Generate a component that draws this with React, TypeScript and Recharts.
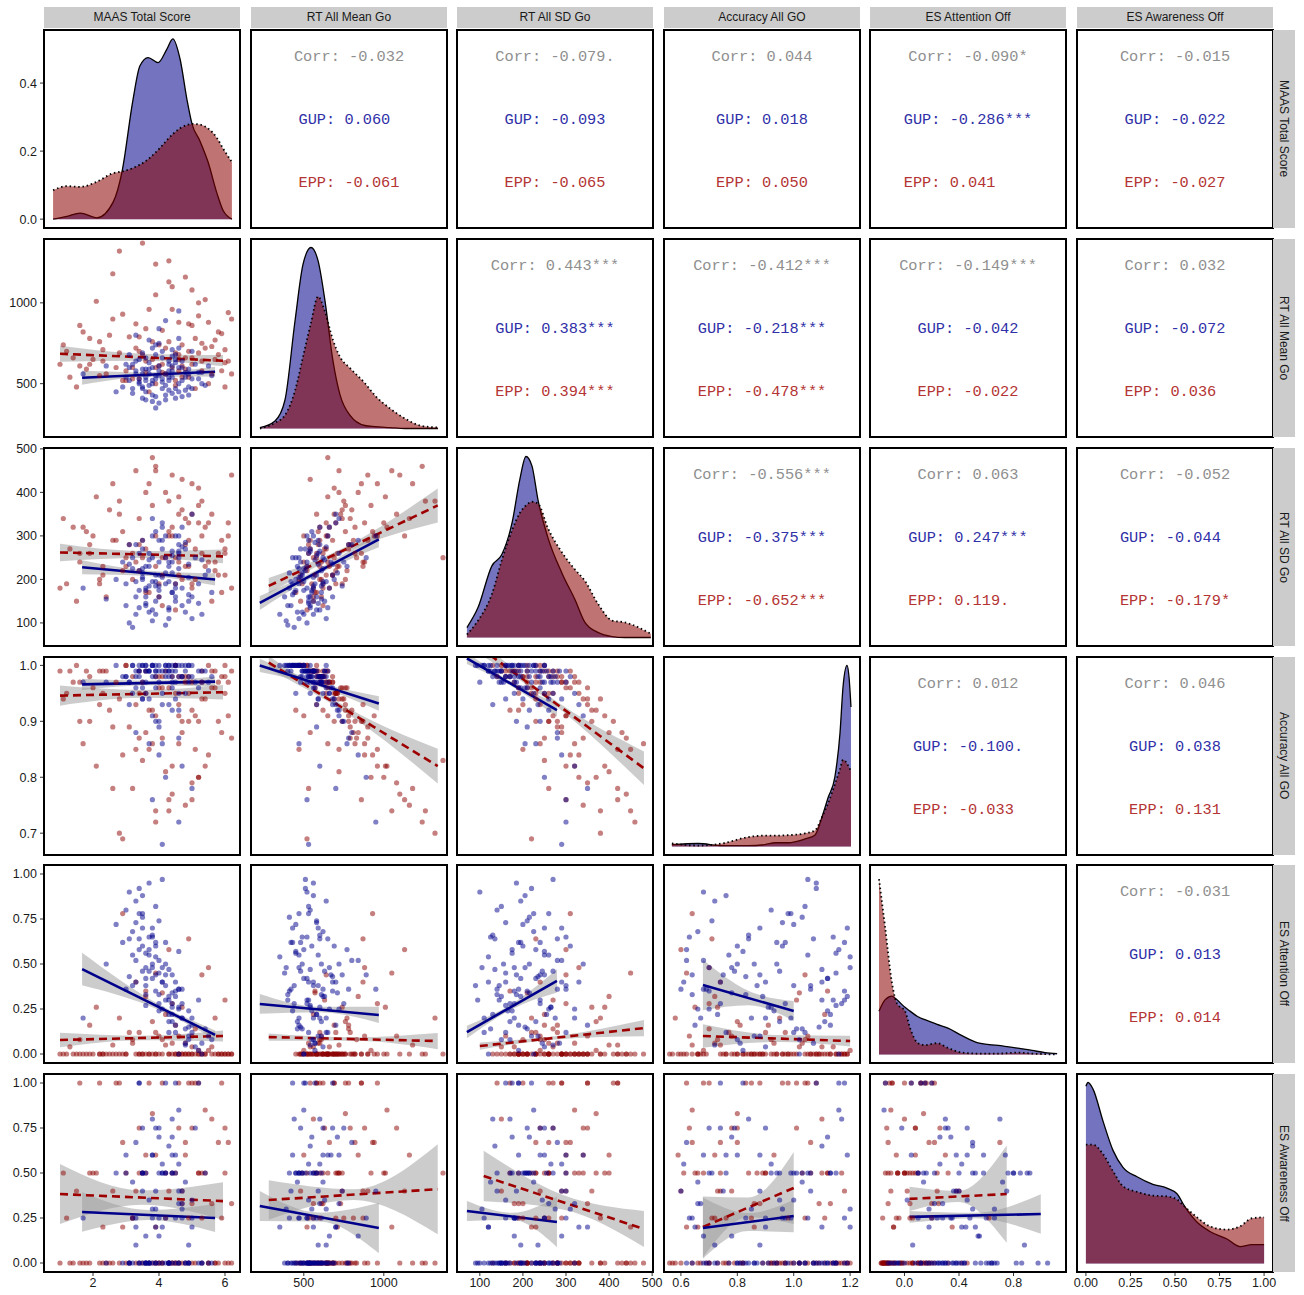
import React from "react";
import { ComposedChart, Scatter, Line, Area, XAxis, YAxis } from "recharts";

const variables = ["MAAS Total Score", "RT All Mean Go", "RT All SD Go", "Accuracy All GO", "ES Attention Off", "ES Awareness Off"];

// panel geometry
const colLeft = [44, 251, 457, 664, 870, 1077];
const rowTop = [30, 239, 448, 657, 865, 1074];
const PW = 196;
const PH = 198;
const PAD = 16;

const xDomains: [number, number][] = [[0.515, 6.455], [170, 1395], [47, 502], [0.54, 1.235], [-0.253, 1.185], [-0.05, 1.05]];
const yDomains: [number, number][] = [[-0.026, 0.556], [170, 1395], [47, 502], [0.661, 1.015], [-0.05, 1.05], [-0.05, 1.05]];
const densityDomain: [number, number] = [-0.045, 1.005];

const xTicks = [[2, 4, 6], [500, 1000], [100, 200, 300, 400, 500], [0.6, 0.8, 1.0, 1.2], [0, 0.4, 0.8], [0, 0.25, 0.5, 0.75, 1]];
const xDigits = [0, 0, 0, 1, 1, 2];
const yTicks = [[0, 0.2, 0.4], [500, 1000], [100, 200, 300, 400, 500], [0.7, 0.8, 0.9, 1.0], [0, 0.25, 0.5, 0.75, 1], [0, 0.25, 0.5, 0.75, 1]];
const yDigits = [1, 0, 0, 1, 2, 2];

// subject rows: [maas, rtMean, rtSd, acc, attOff, awaOff, accX, attX]
const xField = [0, 1, 2, 6, 7, 5];
const yField = [0, 1, 2, 3, 4, 5];

const gupRows = [
  [3.6, 520, 230, 0.99, 0.42, 0.0, 1.12, 0.35], [4.4, 610, 170, 0.98, 0.18, 0.5, 0.95, 0.1],
  [3.2, 470, 250, 1.0, 0.55, 0.25, 1.05, 0.6], [4.9, 560, 150, 0.97, 0.08, 0.0, 0.8, -0.05],
  [3.9, 680, 210, 0.96, 0.35, 0.75, 0.7, 0.3], [4.2, 430, 190, 1.0, 0.62, 1.0, 1.18, 0.12],
  [3.5, 590, 290, 0.94, 0.7, 0.4, 0.88, 0.75], [5.3, 500, 120, 0.99, 0.0, 0.0, 1.02, -0.12],
  [4.6, 720, 260, 0.92, 0.25, 0.33, 0.66, 0.28], [3.0, 540, 140, 0.98, 0.8, 0.5, 0.92, 0.85],
  [4.0, 380, 160, 1.0, 0.45, 0.0, 1.15, 0.4], [4.5, 650, 300, 0.97, 0.12, 0.6, 0.76, 0.05],
  [3.7, 560, 185, 0.99, 0.95, 0.0, 1.08, 1.05], [5.0, 470, 110, 1.0, 0.2, 0.25, 0.99, 0.2],
  [3.3, 800, 280, 0.88, 0.52, 0.67, 0.62, 0.5], [4.3, 520, 240, 0.99, 0.3, 0.0, 1.1, 0.25],
  [3.8, 600, 130, 0.98, 0.66, 0.8, 0.84, 0.7], [4.8, 540, 270, 0.95, 0.05, 0.0, 0.72, -0.1],
  [2.7, 450, 200, 1.0, 0.72, 0.5, 1.0, 0.92], [4.1, 700, 330, 0.93, 0.4, 0.2, 0.9, 0.45],
  [3.4, 500, 175, 1.0, 0.58, 1.0, 1.16, 0.15], [5.5, 610, 220, 0.97, 0.1, 0.0, 0.86, 0.0],
  [4.7, 420, 140, 1.0, 0.36, 0.4, 1.06, 0.38], [3.6, 660, 180, 0.95, 0.48, 0.15, 0.78, 0.55],
  [4.4, 580, 255, 0.99, 0.22, 0.5, 1.13, 0.22], [3.1, 520, 100, 0.97, 0.9, 0.0, 0.68, 0.98],
  [4.0, 750, 240, 0.9, 0.28, 0.75, 0.74, 0.32], [4.9, 480, 205, 1.0, 0.15, 0.0, 1.09, 0.08],
  [3.9, 550, 310, 0.98, 0.6, 0.3, 0.96, 0.66], [4.5, 630, 150, 0.99, 0.32, 0.0, 1.19, 0.3],
  [3.5, 410, 215, 1.0, 0.76, 0.5, 1.03, 0.8], [5.2, 570, 190, 0.96, 0.02, 1.0, 0.82, -0.14],
  [4.2, 890, 250, 0.8, 0.44, 0.25, 0.64, 0.48], [3.7, 490, 125, 0.99, 0.65, 0.0, 1.14, 0.18],
  [4.6, 600, 265, 0.98, 0.26, 0.55, 0.92, 0.26], [3.3, 640, 195, 0.96, 0.85, 0.1, 0.72, 0.88],
  [4.3, 460, 230, 1.0, 0.18, 0.0, 1.11, 0.12], [5.0, 530, 160, 0.98, 0.12, 0.35, 1.0, 0.02],
  [3.8, 720, 340, 0.91, 0.5, 0.6, 0.8, 0.58], [1.7, 560, 180, 0.97, 0.2, 0.25, 0.9, 0.24],
  [4.1, 510, 270, 0.99, 0.97, 0.5, 1.05, 0.1], [3.6, 590, 145, 0.97, 0.38, 0.0, 0.87, 0.42],
  [4.4, 440, 170, 1.0, 0.28, 0.8, 1.17, 0.3], [3.2, 620, 225, 0.95, 0.68, 0.45, 0.66, 0.72],
  [4.8, 570, 285, 0.99, 0.06, 0.0, 1.07, -0.08], [3.9, 350, 120, 1.0, 0.54, 0.2, 1.2, 0.52],
  [4.5, 680, 160, 0.94, 0.4, 1.0, 0.74, 0.05], [3.4, 530, 260, 0.98, 0.78, 0.0, 0.98, 0.82],
  [5.4, 490, 210, 0.99, 0.14, 0.5, 1.01, 0.16], [4.0, 610, 185, 0.97, 0.33, 0.25, 0.83, 0.35],
  [3.7, 770, 230, 0.86, 0.58, 0.0, 0.62, 0.62], [4.3, 540, 135, 0.99, 0.47, 0.65, 1.1, 0.5],
  [2.9, 480, 240, 0.98, 0.62, 0.0, 0.94, 0.68], [4.7, 640, 275, 0.98, 0.2, 0.3, 0.85, 0.18],
  [3.5, 560, 205, 0.96, 0.88, 0.5, 0.76, 0.9], [4.2, 400, 95, 1.0, 0.3, 0.0, 1.18, 0.28],
  [5.1, 620, 250, 0.97, 0.04, 0.75, 0.9, -0.02], [3.8, 500, 195, 1.0, 0.42, 0.0, 1.12, 0.44],
  [4.6, 950, 300, 0.72, 0.36, 0.4, 0.6, 0.36], [3.3, 580, 160, 0.98, 0.73, 0.25, 0.96, 0.1],
  [4.1, 660, 320, 0.95, 0.25, 0.0, 0.7, 0.22], [3.6, 450, 175, 1.0, 0.56, 0.5, 1.15, 0.58],
  [4.9, 590, 235, 0.98, 0.1, 0.1, 0.88, 0.06], [3.9, 530, 150, 0.99, 0.82, 0.0, 1.04, 0.86],
  [4.4, 710, 215, 0.92, 0.34, 0.7, 0.78, 0.34], [3.1, 600, 280, 0.97, 0.64, 0.0, 0.84, 0.12],
  [4.5, 470, 190, 1.0, 0.16, 0.5, 1.13, 0.14], [3.7, 630, 245, 0.99, 0.46, 0.35, 0.95, 0.46],
  [5.6, 550, 170, 0.98, 0.08, 0.0, 1.02, -0.04], [4.0, 840, 290, 0.84, 0.52, 0.15, 0.68, 0.54],
  [3.4, 510, 220, 0.99, 0.92, 1.0, 1.08, 0.2], [4.3, 580, 130, 0.93, 0.22, 0.0, 0.73, 0.2],
  [3.8, 430, 250, 1.0, 0.7, 0.6, 1.19, 0.74], [4.7, 520, 180, 0.98, 0.28, 0.25, 0.97, 0.28],
  [3.5, 690, 200, 0.94, 0.6, 0.0, 0.8, 0.64], [4.2, 560, 300, 0.99, 0.38, 0.5, 1.06, 0.4],
  [2.4, 610, 155, 0.97, 0.5, 0.0, 0.86, 0.52], [4.6, 500, 225, 1.0, 0.0, 0.85, 1.16, -0.15],
  [3.9, 740, 185, 0.9, 0.44, 0.4, 0.75, 0.4], [4.4, 540, 265, 0.97, 0.26, 0.0, 0.91, 0.24],
  [3.6, 400, 140, 0.99, 0.33, 0.0, 0.64, 0.36], [4.1, 470, 205, 0.86, 0.48, 0.5, 0.7, 0.5],
  [3.3, 560, 120, 0.99, 0.4, 0.2, 1.1, 0.42], [4.6, 450, 250, 0.95, 0.57, 0.0, 0.82, 0.6],
  [3.0, 620, 190, 0.98, 0.36, 0.6, 0.68, 0.38], [4.9, 430, 165, 1.0, 0.24, 0.0, 0.93, 0.26],
  [3.8, 520, 300, 0.76, 0.65, 0.25, 0.63, 0.66], [4.3, 640, 110, 1.0, 0.12, 0.0, 1.04, 0.16],
  [3.5, 480, 270, 0.97, 0.46, 0.75, 0.79, 0.46], [5.2, 530, 145, 0.99, 0.3, 0.0, 1.14, 0.3],
  [4.0, 580, 210, 0.89, 0.74, 0.5, 0.71, 0.76], [3.2, 440, 90, 1.0, 0.38, 0.0, 1.0, 0.38],
  [4.7, 600, 320, 0.82, 0.2, 0.33, 0.67, 0.22], [3.9, 420, 195, 0.99, 0.62, 0.0, 0.97, 0.64],
  [4.4, 670, 240, 0.96, 0.44, 0.6, 0.88, 0.46], [3.6, 540, 160, 1.0, 0.27, 0.0, 1.15, 0.28],
  [5.0, 700, 350, 0.78, 0.16, 0.2, 0.65, 0.18], [4.2, 490, 215, 0.98, 0.5, 0.5, 0.94, 0.52],
  [3.4, 650, 135, 0.99, 0.64, 0.0, 1.07, 0.66], [4.5, 410, 180, 1.0, 0.35, 0.25, 1.18, 0.34],
  [3.7, 590, 260, 0.94, 0.55, 0.0, 0.77, 0.56], [4.8, 460, 125, 1.0, 0.14, 0.45, 1.03, 0.14],
  [3.1, 680, 235, 0.93, 0.43, 0.0, 0.83, 0.44], [4.0, 550, 175, 0.99, 0.24, 0.7, 1.12, 0.26],
  [4.6, 780, 280, 0.87, 0.36, 0.0, 0.69, 0.38], [3.5, 470, 225, 1.0, 0.78, 0.5, 0.99, 0.8],
  [4.3, 620, 195, 0.98, 0.32, 0.0, 0.89, 0.32], [3.8, 390, 105, 1.0, 0.48, 0.3, 1.2, 0.5],
  [5.3, 570, 245, 0.97, 0.06, 0.0, 0.81, -0.06], [4.1, 530, 290, 0.68, 0.4, 0.55, 0.61, 0.42],
];

const eppRows = [
  [1.0, 620, 180, 0.99, 0.0, 0.0, 1.15, -0.17], [5.8, 820, 260, 0.9, 0.0, 0.67, 0.74, -0.12],
  [2.6, 1180, 420, 0.78, 0.05, 0.0, 0.64, -0.08], [4.9, 540, 290, 0.98, 0.0, 1.0, 1.08, 0.05],
  [3.4, 700, 220, 0.95, 0.12, 0.5, 0.9, 0.0], [6.1, 640, 330, 0.97, 0.0, 0.0, 0.82, -0.15],
  [1.5, 480, 150, 1.0, 0.0, 0.4, 1.18, -0.1], [4.4, 960, 300, 0.82, 0.28, 0.0, 0.7, 0.18],
  [5.3, 580, 260, 0.99, 0.0, 0.5, 1.12, -0.05], [2.2, 760, 200, 0.93, 0.0, 1.0, 0.96, 0.15],
  [3.9, 1050, 450, 0.74, 0.45, 0.2, 0.62, 0.35], [5.0, 660, 180, 0.97, 0.04, 0.0, 1.02, -0.16],
  [1.8, 590, 310, 0.99, 0.0, 0.0, 1.16, 0.02], [4.6, 880, 240, 0.86, 0.1, 0.75, 0.78, 0.08],
  [3.0, 520, 230, 1.0, 0.0, 0.5, 1.1, -0.14], [5.6, 730, 350, 0.96, 0.0, 0.33, 0.86, 0.2],
  [2.8, 1320, 380, 0.7, 0.2, 0.0, 0.58, -0.02], [4.1, 620, 140, 0.98, 0.0, 1.0, 1.05, 0.22],
  [6.0, 480, 210, 1.0, 0.0, 0.0, 1.19, -0.11], [3.6, 840, 400, 0.88, 0.32, 0.6, 0.72, 0.3],
  [1.2, 700, 190, 0.95, 0.0, 0.25, 0.98, -0.06], [4.8, 590, 280, 0.98, 0.06, 0.0, 0.93, -0.13],
  [5.2, 1000, 330, 0.8, 0.0, 0.5, 0.66, 0.0], [2.4, 560, 160, 0.99, 0.0, 0.0, 1.13, 0.1],
  [3.8, 760, 370, 0.92, 0.18, 0.83, 0.8, 0.14], [5.7, 650, 240, 0.99, 0.0, 0.0, 1.07, -0.17],
  [4.3, 1130, 300, 0.76, 0.58, 0.4, 0.6, 0.4], [1.6, 860, 260, 0.9, 0.0, 1.0, 0.88, -0.09],
  [4.9, 700, 330, 0.95, 0.0, 0.0, 0.94, 0.04], [3.2, 600, 200, 0.98, 0.08, 0.25, 1.04, -0.04],
  [6.2, 900, 440, 0.87, 0.0, 0.0, 0.76, -0.15], [2.0, 650, 300, 0.96, 0.0, 0.5, 0.84, 0.08],
  [4.5, 520, 130, 1.0, 0.0, 0.0, 1.17, -0.12], [5.1, 780, 270, 0.91, 0.14, 1.0, 0.7, 0.12],
  [3.5, 680, 290, 0.97, 0.0, 0.0, 1.0, -0.07], [2.9, 930, 310, 0.84, 0.78, 0.67, 0.64, 0.7],
  [4.7, 610, 200, 0.98, 0.0, 0.33, 1.09, 0.25], [1.3, 540, 270, 0.99, 0.04, 0.0, 1.14, -0.01],
  [5.4, 720, 230, 0.94, 0.0, 0.5, 0.89, -0.1], [3.9, 1240, 460, 0.72, 0.0, 0.0, 0.56, 0.06],
  [4.2, 560, 250, 0.99, 0.22, 0.25, 1.11, 0.2], [2.5, 800, 360, 0.92, 0.0, 0.0, 0.82, -0.13],
  [5.9, 580, 170, 0.98, 0.0, 1.0, 1.01, 0.0], [3.3, 870, 240, 0.93, 0.4, 0.4, 0.74, 0.38],
  [4.6, 650, 390, 0.91, 0.0, 0.0, 0.92, -0.16], [5.0, 1080, 350, 0.79, 0.1, 0.75, 0.63, 0.08],
  [1.9, 620, 260, 0.98, 0.0, 0.5, 1.06, -0.05], [4.0, 740, 190, 0.96, 0.0, 0.0, 0.97, 0.12],
  [5.5, 500, 240, 1.0, 0.02, 0.0, 1.2, -0.14], [3.7, 960, 420, 0.85, 0.0, 1.0, 0.68, 0.16],
  [2.3, 710, 230, 0.95, 0.0, 0.2, 0.86, -0.08], [4.4, 600, 320, 0.98, 0.06, 0.5, 1.03, 0.02],
  [5.8, 680, 210, 0.97, 0.0, 0.0, 0.94, -0.12], [3.1, 790, 280, 0.89, 0.12, 0.0, 0.77, 0.1],
  [4.8, 1160, 340, 0.75, 0.0, 0.6, 0.59, -0.06], [1.4, 660, 320, 0.97, 0.0, 0.0, 0.99, 0.18],
  [3.6, 570, 170, 0.99, 0.35, 0.5, 1.12, 0.32], [5.3, 750, 380, 0.94, 0.0, 0.25, 0.85, -0.16],
  [4.1, 830, 250, 0.87, 0.08, 0.0, 0.73, 0.06], [2.7, 600, 290, 0.97, 0.0, 1.0, 1.04, -0.11],
  [6.1, 940, 300, 0.91, 0.0, 0.67, 0.8, 0.22], [4.5, 690, 250, 0.95, 0.16, 0.0, 0.91, 0.14],
  [3.4, 530, 280, 0.99, 0.0, 0.0, 1.15, -0.09], [5.0, 620, 190, 0.92, 0.0, 0.33, 0.88, 0.04],
  [2.1, 1010, 390, 0.82, 0.26, 0.5, 0.65, 0.24], [4.3, 760, 310, 0.96, 0.0, 0.0, 0.96, -0.14],
  [5.6, 560, 150, 0.99, 0.04, 0.8, 1.1, 0.0], [3.8, 650, 480, 0.86, 0.0, 0.0, 0.75, 0.1],
  [1.1, 740, 340, 0.94, 0.0, 0.5, 0.87, -0.12], [4.9, 870, 230, 0.9, 0.64, 0.25, 0.71, 0.62],
  [3.0, 580, 250, 1.0, 0.0, 0.0, 1.18, -0.03], [5.2, 690, 410, 0.9, 0.0, 1.0, 0.83, 0.12],
  [4.0, 610, 160, 0.98, 0.1, 0.0, 1.05, -0.15], [2.6, 900, 290, 0.89, 0.0, 0.4, 0.78, 0.02],
  [5.7, 770, 220, 0.96, 0.2, 0.0, 0.95, 0.16], [3.5, 1370, 250, 0.83, 0.0, 0.5, 0.61, -0.05],
  [4.7, 540, 430, 0.88, 0.0, 0.0, 0.79, 0.2], [6.0, 630, 270, 0.98, 0.3, 0.75, 1.01, 0.26],
  [1.7, 820, 320, 0.86, 0.0, 0.0, 0.69, -0.1], [4.2, 720, 400, 0.81, 0.05, 0.5, 0.74, 0.06],
  [5.1, 470, 200, 0.85, 0.0, 0.0, 0.66, -0.13], [3.2, 530, 260, 0.78, 0.06, 0.25, 0.72, 0.04],
  [4.6, 580, 350, 0.93, 0.0, 1.0, 0.85, -0.09], [2.3, 640, 210, 0.99, 0.0, 0.0, 1.09, -0.16],
  [5.5, 880, 330, 0.84, 0.48, 0.0, 0.7, 0.46], [3.9, 500, 300, 0.91, 0.0, 0.6, 0.93, 0.08],
  [4.4, 1100, 440, 0.77, 0.0, 0.0, 0.6, -0.04], [6.2, 560, 180, 0.99, 0.0, 0.33, 1.13, -0.12],
  [1.9, 780, 280, 0.9, 0.16, 0.0, 0.81, 0.14], [4.8, 660, 230, 0.97, 0.0, 0.67, 1.06, 0.18],
  [3.7, 450, 170, 0.92, 0.0, 0.0, 0.89, -0.11], [5.2, 920, 370, 0.8, 0.02, 0.5, 0.68, 0.0],
  [2.8, 690, 350, 0.94, 0.0, 1.0, 0.98, -0.14], [4.1, 570, 210, 0.96, 0.34, 0.0, 1.02, 0.32],
  [5.9, 810, 290, 0.88, 0.0, 0.25, 0.76, 0.06], [3.3, 720, 450, 0.85, 0.0, 0.0, 0.67, -0.07],
  [4.5, 490, 190, 1.0, 0.0, 0.5, 1.17, 0.1], [1.6, 610, 240, 0.97, 0.08, 0.0, 0.92, 0.06],
  [5.4, 1020, 320, 0.82, 0.0, 0.85, 0.64, -0.1], [3.6, 640, 270, 0.95, 0.0, 0.0, 1.11, 0.16],
  [4.7, 740, 360, 0.9, 0.26, 0.4, 0.73, 0.24], [2.2, 550, 190, 0.99, 0.0, 0.0, 1.19, -0.02],
  [5.0, 860, 420, 0.76, 0.0, 1.0, 0.62, 0.2], [3.9, 600, 230, 0.98, 0.12, 0.0, 0.97, -0.15],
  [6.0, 710, 260, 0.95, 0.0, 0.5, 0.9, 0.04], [4.3, 1260, 380, 0.74, 0.0, 0.0, 0.57, 0.12],
  [2.9, 520, 220, 0.69, 0.0, 0.2, 0.66, -0.08], [5.3, 640, 300, 0.97, 0.44, 0.0, 1.04, 0.42],
  [3.4, 790, 340, 0.87, 0.0, 0.75, 0.8, -0.13], [4.6, 680, 210, 0.98, 0.0, 0.0, 1.08, 0.22],
];

// diagonal densities (row 1 in density units, others as share of panel height)
const maasGrid = [0.79, 1.21, 1.61, 2.12, 2.61, 2.88, 3.21, 3.42, 3.67, 3.97, 4.24, 4.42, 4.64, 4.85, 5.0, 5.24, 5.48, 5.76, 5.94, 6.21];
const maasGup = [0, 0.008, 0.018, 0.004, 0.05, 0.14, 0.35, 0.45, 0.475, 0.46, 0.5, 0.53, 0.47, 0.35, 0.28, 0.23, 0.17, 0.075, 0.026, 0];
const maasEpp = [0.085, 0.097, 0.095, 0.11, 0.135, 0.14, 0.15, 0.16, 0.176, 0.203, 0.232, 0.25, 0.267, 0.277, 0.28, 0.278, 0.267, 0.238, 0.208, 0.168];

const rtmGrid = [226, 320, 382, 445, 495, 545, 589, 632, 682, 726, 789, 882, 945, 1039, 1132, 1226, 1339];
const rtmGup = [0.005, 0.04, 0.15, 0.57, 0.87, 0.96, 0.89, 0.68, 0.36, 0.18, 0.07, 0.016, 0.01, 0.005, 0, 0, 0];
const rtmEpp = [0, 0.03, 0.07, 0.2, 0.38, 0.56, 0.7, 0.62, 0.47, 0.38, 0.32, 0.24, 0.175, 0.106, 0.053, 0.016, 0.005];

const rtsdGrid = [70, 96, 128, 151, 175, 193, 207, 221, 235, 258, 291, 321, 344, 374, 407, 437, 497];
const rtsdGup = [0.053, 0.16, 0.38, 0.44, 0.61, 0.84, 0.96, 0.91, 0.73, 0.53, 0.34, 0.2, 0.08, 0.027, 0.005, 0, 0];
const rtsdEpp = [0.016, 0.09, 0.23, 0.41, 0.57, 0.66, 0.7, 0.72, 0.71, 0.58, 0.45, 0.36, 0.3, 0.18, 0.09, 0.08, 0.02];

const accGrid = [0.568, 0.661, 0.746, 0.838, 0.898, 0.934, 0.98, 1.04, 1.075, 1.1, 1.122, 1.146, 1.164, 1.175, 1.189, 1.196, 1.203];
const accGup = [0.01, 0.016, 0.005, 0.005, 0.01, 0.02, 0.02, 0.04, 0.06, 0.155, 0.26, 0.37, 0.6, 0.85, 0.96, 0.9, 0.74];
const accEpp = [0.016, 0.005, 0.016, 0.05, 0.058, 0.058, 0.06, 0.07, 0.085, 0.155, 0.23, 0.33, 0.41, 0.46, 0.44, 0.42, 0.4];

const attGrid = [-0.187, -0.143, -0.092, -0.055, 0.004, 0.041, 0.099, 0.15, 0.239, 0.319, 0.422, 0.54, 0.686, 0.833, 0.936, 1.031, 1.12];
const attGup = [0.23, 0.29, 0.31, 0.29, 0.25, 0.23, 0.2, 0.185, 0.16, 0.14, 0.1, 0.062, 0.048, 0.034, 0.022, 0.01, 0.005];
const attEpp = [0.93, 0.68, 0.38, 0.27, 0.23, 0.14, 0.06, 0.05, 0.06, 0.035, 0.01, 0.005, 0.005, 0.01, 0.005, 0.002, 0];

const awaGrid = [0, 0.012, 0.04, 0.096, 0.152, 0.208, 0.287, 0.376, 0.455, 0.511, 0.556, 0.623, 0.696, 0.792, 0.865, 0.932, 1.0];
const awaGup = [0.94, 0.96, 0.925, 0.755, 0.6, 0.51, 0.46, 0.42, 0.4, 0.37, 0.3, 0.22, 0.17, 0.13, 0.09, 0.1, 0.1];
const awaEpp = [0.63, 0.63, 0.63, 0.58, 0.49, 0.41, 0.38, 0.36, 0.356, 0.34, 0.3, 0.245, 0.197, 0.18, 0.197, 0.24, 0.245];

const densGrids = [maasGrid, rtmGrid, rtsdGrid, accGrid, attGrid, awaGrid];
const densGup = [maasGup, rtmGup, rtsdGup, accGup, attGup, awaGup];
const densEpp = [maasEpp, rtmEpp, rtsdEpp, accEpp, attEpp, awaEpp];

// linear fits: [row, col, group (0 GUP, 1 EPP), x0, x1, y0, y1, half-width left, mid, right]
const fits = [
  [1, 0, 1, 1.0, 5.94, 685, 642, 50, 22, 35],
  [1, 0, 0, 1.67, 5.7, 537, 574, 43, 15, 30],
  [2, 0, 1, 1.0, 5.94, 262, 253, 20, 8, 16],
  [2, 0, 0, 1.67, 5.7, 228, 200, 16, 6, 14],
  [2, 1, 1, 281, 1337, 185, 370, 18, 7, 39],
  [2, 1, 0, 225, 969, 146, 292, 16, 6, 18],
  [3, 0, 1, 1.0, 5.94, 0.946, 0.952, 0.018, 0.007, 0.013],
  [3, 0, 0, 1.67, 5.7, 0.966, 0.971, 0.01, 0.004, 0.009],
  [3, 1, 1, 281, 1337, 1.005, 0.82, 0.012, 0.006, 0.031],
  [3, 1, 0, 225, 969, 1.0, 0.932, 0.012, 0.004, 0.013],
  [3, 2, 1, 100, 481, 1.032, 0.816, 0.012, 0.005, 0.03],
  [3, 2, 0, 70, 279, 1.0125, 0.92, 0.01, 0.004, 0.012],
  [4, 0, 1, 1.0, 5.94, 0.078, 0.1, 0.04, 0.012, 0.03],
  [4, 0, 0, 1.67, 5.7, 0.472, 0.106, 0.09, 0.02, 0.025],
  [4, 1, 1, 281, 1337, 0.094, 0.072, 0.02, 0.01, 0.045],
  [4, 1, 0, 225, 969, 0.278, 0.217, 0.055, 0.015, 0.045],
  [4, 2, 1, 100, 481, 0.044, 0.144, 0.02, 0.01, 0.045],
  [4, 2, 0, 70, 279, 0.122, 0.406, 0.035, 0.015, 0.065],
  [4, 3, 1, 0.678, 1.2, 0.1, 0.072, 0.065, 0.02, 0.03],
  [4, 3, 0, 0.678, 1.0, 0.383, 0.239, 0.14, 0.04, 0.055],
  [5, 0, 1, 1.0, 5.94, 0.383, 0.344, 0.167, 0.04, 0.105],
  [5, 0, 0, 1.67, 5.7, 0.283, 0.25, 0.11, 0.028, 0.078],
  [5, 1, 1, 281, 1337, 0.35, 0.41, 0.11, 0.03, 0.25],
  [5, 1, 0, 225, 969, 0.317, 0.194, 0.083, 0.025, 0.14],
  [5, 2, 1, 109, 481, 0.483, 0.189, 0.14, 0.04, 0.1],
  [5, 2, 0, 70, 279, 0.289, 0.228, 0.055, 0.02, 0.14],
  [5, 3, 1, 0.678, 1.0, 0.2, 0.417, 0.17, 0.055, 0.2],
  [5, 3, 0, 0.678, 1.0, 0.194, 0.261, 0.17, 0.05, 0.09],
  [5, 4, 1, 0.037, 0.75, 0.356, 0.383, 0.067, 0.03, 0.27],
  [5, 4, 0, 0.037, 1.0, 0.256, 0.272, 0.033, 0.015, 0.11],
];

// upper panels: [row, col, overall, GUP, EPP]
const corrCells = [
  [0, 1, "-0.032", "0.060", "-0.061"],
  [0, 2, "-0.079.", "-0.093", "-0.065"],
  [0, 3, "0.044", "0.018", "0.050"],
  [0, 4, "-0.090*", "-0.286***", "0.041"],
  [0, 5, "-0.015", "-0.022", "-0.027"],
  [1, 2, "0.443***", "0.383***", "0.394***"],
  [1, 3, "-0.412***", "-0.218***", "-0.478***"],
  [1, 4, "-0.149***", "-0.042", "-0.022"],
  [1, 5, "0.032", "-0.072", "0.036"],
  [2, 3, "-0.556***", "-0.375***", "-0.652***"],
  [2, 4, "0.063", "0.247***", "0.119."],
  [2, 5, "-0.052", "-0.044", "-0.179*"],
  [3, 4, "0.012", "-0.100.", "-0.033"],
  [3, 5, "0.046", "0.038", "0.131"],
  [4, 5, "-0.031", "0.013", "0.014"],
];

const GUP = "#00008B";
const EPP = "#8B0000";
const EPP_LINE = "#9E0000";
const SANS = '"Liberation Sans", Arial, sans-serif';
const MONO = '"Liberation Mono", "Courier New", monospace';
const tickStyle = { fontSize: 12.5, fill: "#1a1a1a", fontFamily: SANS };

const gupDot = (p: any) => <circle cx={p.cx} cy={p.cy} r={2.6} fill={GUP} fillOpacity={0.5} />;
const eppDot = (p: any) => <circle cx={p.cx} cy={p.cy} r={2.6} fill={EPP} fillOpacity={0.5} />;

function axes(r: number, c: number, yDomain: [number, number], useYKey: boolean) {
  const showY = c === 0;
  const showX = r === 5;
  return [
    <XAxis key="x" type="number" dataKey="x" domain={xDomains[c]} allowDataOverflow hide={!showX}
      ticks={xTicks[c]} interval={0} tickFormatter={(v: number) => v.toFixed(xDigits[c])}
      height={24} axisLine={false} tickSize={4} tickMargin={2} tickLine={{ stroke: "#333" }} tick={tickStyle} />,
    <YAxis key="y" type="number" dataKey={useYKey ? "y" : undefined} domain={yDomain} allowDataOverflow hide={!showY}
      ticks={yTicks[r]} interval={0} tickFormatter={(v: number) => v.toFixed(yDigits[r])}
      width={40} axisLine={false} tickSize={4} tickMargin={3} tickLine={{ stroke: "#333" }} tick={tickStyle} />,
  ];
}

function frame(r: number, c: number) {
  const yw = c === 0 ? 40 : 0;
  const xh = r === 5 ? 24 : 0;
  return {
    left: colLeft[c] - yw - PAD,
    top: rowTop[r] - PAD,
    width: PW + yw + 2 * PAD,
    height: PH + xh + 2 * PAD,
  };
}

function ScatterPanel({ r, c }: { r: number; c: number }) {
  const f = frame(r, c);
  const gupPts = gupRows.map((t) => ({ x: t[xField[c]], y: t[yField[r]] }));
  const eppPts = eppRows.map((t) => ({ x: t[xField[c]], y: t[yField[r]] }));
  const panelFits = fits.filter((d) => d[0] === r && d[1] === c);
  return (
    <div style={{ position: "absolute", left: f.left, top: f.top }}>
      <ComposedChart width={f.width} height={f.height} margin={{ top: PAD, right: PAD, bottom: PAD, left: PAD }}>
        {axes(r, c, yDomains[r], true)}
        <Scatter data={eppPts} shape={eppDot} isAnimationActive={false} />
        <Scatter data={gupPts} shape={gupDot} isAnimationActive={false} />
        {panelFits.map((d, i) => {
          const [, , , x0, x1, y0, y1, w0, wm, w1] = d as number[];
          const xm = (x0 + x1) / 2;
          const ym = (y0 + y1) / 2;
          const band = [
            { x: x0, band: [y0 - w0, y0 + w0] },
            { x: xm, band: [ym - wm, ym + wm] },
            { x: x1, band: [y1 - w1, y1 + w1] },
          ];
          return (
            <Area key={"b" + i} data={band} dataKey="band" type="monotone" stroke="none"
              fill="#999999" fillOpacity={0.5} isAnimationActive={false} />
          );
        })}
        {panelFits.map((d, i) => {
          const [, , g, x0, x1, y0, y1] = d as number[];
          return (
            <Line key={"l" + i} data={[{ x: x0, y: y0 }, { x: x1, y: y1 }]} dataKey="y"
              stroke={g === 1 ? EPP_LINE : GUP} strokeWidth={2.6}
              strokeDasharray={g === 1 ? "8 5" : undefined} dot={false} isAnimationActive={false} />
          );
        })}
      </ComposedChart>
    </div>
  );
}

function DensityPanel({ i }: { i: number }) {
  const f = frame(i, i);
  const data = densGrids[i].map((x, k) => ({ x, b: densGup[i][k], e: densEpp[i][k] }));
  return (
    <div style={{ position: "absolute", left: f.left, top: f.top }}>
      <ComposedChart width={f.width} height={f.height} data={data} margin={{ top: PAD, right: PAD, bottom: PAD, left: PAD }}>
        {axes(i, i, i === 0 ? yDomains[0] : densityDomain, false)}
        <Area dataKey="b" type="monotone" baseValue={0} fill={GUP} fillOpacity={0.55}
          stroke="#000" strokeWidth={1.3} isAnimationActive={false} />
        <Area dataKey="e" type="monotone" baseValue={0} fill={EPP} fillOpacity={0.55}
          stroke="#000" strokeWidth={1.8} strokeDasharray="1.5 2.8" isAnimationActive={false} />
      </ComposedChart>
    </div>
  );
}

function TextPanel({ cell }: { cell: (string | number)[] }) {
  const [r, c, corr, gup, epp] = cell as [number, number, string, string, string];
  return (
    <div style={{ position: "absolute", left: colLeft[c], top: rowTop[r], width: PW, height: PH, fontFamily: MONO, fontSize: 15.3, whiteSpace: "pre" }}>
      <div style={{ position: "absolute", top: 18, left: 0, right: 0, textAlign: "center", lineHeight: "18px", color: "#8f8f8f" }}>
        {"Corr: " + corr}
      </div>
      <div style={{ position: "absolute", top: 81, left: "50%", transform: "translateX(-50%)", lineHeight: "18px" }}>
        <div style={{ color: "#3030a8" }}>{"GUP: " + gup}</div>
        <div style={{ color: "#b43434", marginTop: 45 }}>{"EPP: " + epp}</div>
      </div>
    </div>
  );
}

export default function App() {
  const charts: React.ReactNode[] = [];
  const borders: React.ReactNode[] = [];
  for (let r = 0; r < 6; r++) {
    for (let c = 0; c < 6; c++) {
      if (r === c) charts.push(<DensityPanel key={`d${r}`} i={r} />);
      else if (r > c) charts.push(<ScatterPanel key={`s${r}${c}`} r={r} c={c} />);
      borders.push(
        <div key={`f${r}${c}`} style={{ position: "absolute", left: colLeft[c] - 1, top: rowTop[r] - 1, width: PW + 2, height: PH + 2, border: "2px solid #000", boxSizing: "border-box", pointerEvents: "none" }} />
      );
    }
  }
  return (
    <div style={{ position: "absolute", left: 0, top: 0, width: 1304, height: 1295, background: "#fff", fontFamily: SANS, overflow: "hidden" }}>
      {charts}
      {corrCells.map((cell, i) => <TextPanel key={`t${i}`} cell={cell} />)}
      {borders}
      {variables.map((v, i) => (
        <div key={`top${i}`} style={{ position: "absolute", left: colLeft[i], top: 7, width: PW, height: 21, background: "#cccccc", color: "#1a1a1a", fontSize: 12, lineHeight: "21px", textAlign: "center" }}>
          {v}
        </div>
      ))}
      {variables.map((v, i) => (
        <div key={`side${i}`} style={{ position: "absolute", left: 1273, top: rowTop[i], width: 22, height: PH, background: "#cccccc", color: "#1a1a1a", fontSize: 12, display: "flex", alignItems: "center", justifyContent: "center" }}>
          <span style={{ writingMode: "vertical-rl" }}>{v}</span>
        </div>
      ))}
    </div>
  );
}
